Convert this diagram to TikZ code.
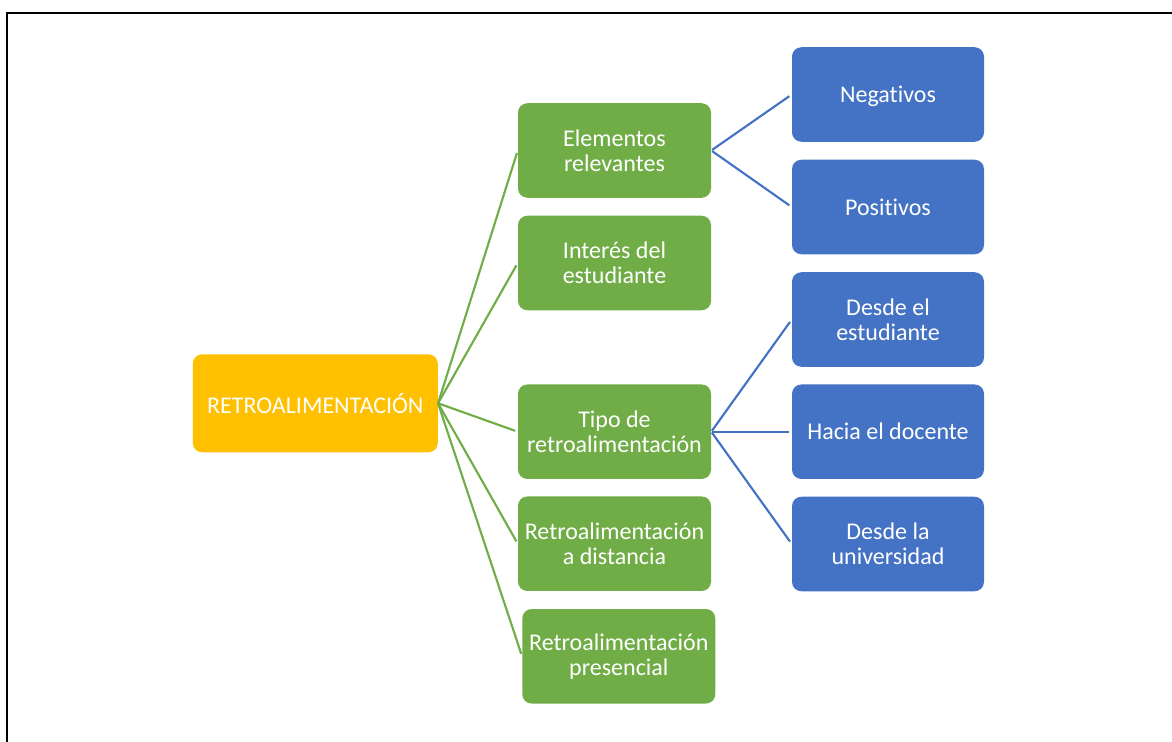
\documentclass[tikz,border=0pt]{standalone}
\usepackage{fontspec}
\setmainfont[Ligatures=NoCommon]{Carlito}
\definecolor{cOrange}{HTML}{FFC000}
\definecolor{cGreen}{HTML}{70AD47}
\definecolor{cBlue}{HTML}{4472C4}
\begin{document}
\begin{tikzpicture}[x=0.75pt,y=-0.75pt,
  boxbase/.style={rounded corners=7pt, inner sep=0pt, text=white, align=center,
    font=\fontsize{18}{19}\selectfont},
  rootbox/.style={boxbase, fill=cOrange, minimum width=183.75pt, minimum height=73.5pt},
  greenbox/.style={boxbase, fill=cGreen, minimum width=144.75pt, minimum height=70.9pt},
  bluebox/.style={boxbase, fill=cBlue, minimum width=144pt, minimum height=70.9pt},
  glink/.style={draw=cGreen, line width=1.6pt, shorten >=2pt},
  blink/.style={draw=cBlue, line width=1.6pt, shorten >=2.2pt, shorten <=0.8pt}]
\useasboundingbox (0,0) rectangle (1172,742);
\draw[line width=1.5pt] (7,742) -- (7,13) -- (1172,13);

\node[rootbox] (root) at (315.3,403.3) {RETROALIMENTACIÓN};

\node[greenbox] (g1) at (614.5,150.5) {Elementos\\relevantes};
\node[greenbox] (g2) at (614.5,263) {Interés del\\estudiante};
\node[greenbox] (g3) at (614.5,431.7) {Tipo de\\retroalimentación};
\node[greenbox] (g4) at (614.5,543.7) {Retroalimentación\\a distancia};
\node[greenbox] (g5) at (618.8,656.3) {Retroalimentación\\presencial};

\node[bluebox, text depth=0pt] (b1) at (888,94.5) {Negativos};
\node[bluebox] (b2) at (888,207) {Positivos};
\node[bluebox] (b3) at (888,319.5) {Desde el\\estudiante};
\node[bluebox] (b4) at (888,431.7) {Hacia el docente};
\node[bluebox] (b5) at (888,544) {Desde la\\universidad};

\foreach \g in {g1,g2,g3,g4,g5}
  \draw[glink] (root.east) -- (\g.west);

\draw[blink] (g1.east) -- (b1.west);
\draw[blink] (g1.east) -- (b2.west);
\draw[blink] (g3.east) -- (b3.west);
\draw[blink] (g3.east) -- (b4.west);
\draw[blink] (g3.east) -- (b5.west);
\end{tikzpicture}
\end{document}
